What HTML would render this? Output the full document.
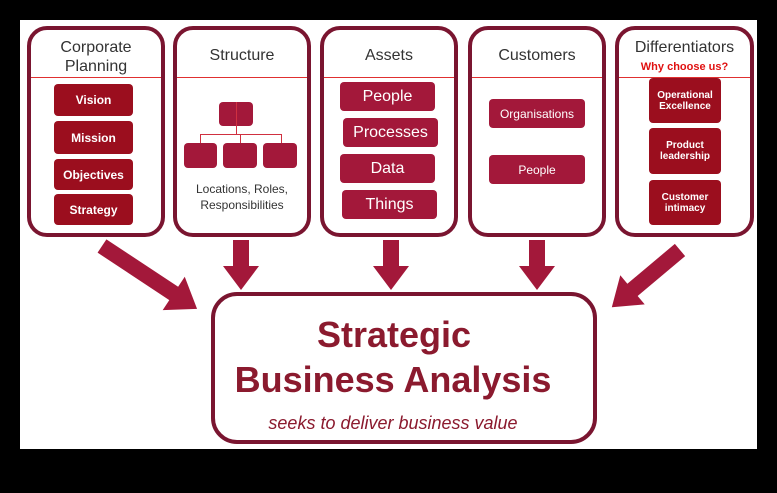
<!DOCTYPE html>
<html><head><style>
body{margin:0;background:#000;width:777px;height:493px;position:relative;overflow:hidden;font-family:"Liberation Sans",sans-serif}
.w{position:absolute;left:20px;top:20px;width:737px;height:429px;background:#fff}
.p{position:absolute;top:26px;height:203px;border:4px solid #7a1530;border-radius:20px;box-sizing:content-box}
.h{position:absolute;left:0;right:0;top:47px;border-top:1px solid #e03030}
.t{position:absolute;left:0;right:0;text-align:center;color:#333;font-size:16px;line-height:19px}
.b{position:absolute;background:#9b0e1e;color:#fff;font-weight:bold;font-size:12px;text-align:center;border-radius:4px;display:flex;align-items:center;justify-content:center;line-height:12px}
.c{background:#a3183a;font-weight:normal;font-size:16px}
.o{position:absolute;background:#a3183a;border-radius:4px}
</style></head><body>
<div class="w"></div>
<div class="p" style="left:27px;width:130px"><div class="h"></div><div class="t" style="top:8px">Corporate<br>Planning</div></div>
<div class="p" style="left:173px;width:130px"><div class="h"></div><div class="t" style="top:16px">Structure</div></div>
<div class="p" style="left:320px;width:130px"><div class="h"></div><div class="t" style="top:16px">Assets</div></div>
<div class="p" style="left:468px;width:130px"><div class="h"></div><div class="t" style="top:16px">Customers</div></div>
<div class="p" style="left:615px;width:131px"><div class="h"></div><div class="t" style="top:8px">Differentiators</div><div class="t" style="top:28px;color:#e01010;font-weight:bold;font-size:11px">Why choose us?</div></div>

<div class="b" style="left:54px;top:84px;width:79px;height:32px">Vision</div>
<div class="b" style="left:54px;top:121px;width:79px;height:33px">Mission</div>
<div class="b" style="left:54px;top:159px;width:79px;height:31px">Objectives</div>
<div class="b" style="left:54px;top:194px;width:79px;height:31px">Strategy</div>

<div class="o" style="left:219px;top:102px;width:34px;height:24px"></div>
<div style="position:absolute;left:236px;top:102px;height:32px;border-left:1px solid #d03040"></div>
<div style="position:absolute;left:200px;top:134px;width:80px;height:9px;border:1px solid #d03040;border-bottom:none"></div>
<div style="position:absolute;left:240px;top:134px;height:9px;border-left:1px solid #d03040"></div>
<div class="o" style="left:184px;top:143px;width:33px;height:25px"></div>
<div class="o" style="left:223px;top:143px;width:34px;height:25px"></div>
<div class="o" style="left:263px;top:143px;width:34px;height:25px"></div>
<div class="t" style="left:173px;width:138px;top:181px;font-size:12px;line-height:16px">Locations, Roles,<br>Responsibilities</div>

<div class="b c" style="left:340px;top:82px;width:95px;height:29px">People</div>
<div class="b c" style="left:343px;top:118px;width:95px;height:29px">Processes</div>
<div class="b c" style="left:340px;top:154px;width:95px;height:29px">Data</div>
<div class="b c" style="left:342px;top:190px;width:95px;height:29px">Things</div>

<div class="b c" style="left:489px;top:99px;width:96px;height:29px;font-size:12px">Organisations</div>
<div class="b c" style="left:489px;top:155px;width:96px;height:29px;font-size:12px">People</div>

<div class="b" style="left:649px;top:78px;width:72px;height:45px;font-size:10px;line-height:11px">Operational<br>Excellence</div>
<div class="b" style="left:649px;top:128px;width:72px;height:46px;font-size:10px;line-height:11px">Product<br>leadership</div>
<div class="b" style="left:649px;top:180px;width:72px;height:45px;font-size:10px;line-height:11px">Customer<br>intimacy</div>

<svg style="position:absolute;left:0;top:0" width="777" height="493">
<g fill="#a3183a">
<polygon points="233,240 249,240 249,266 259,266 241,290 223,266 233,266"/>
<polygon points="383,240 399,240 399,266 409,266 391,290 373,266 383,266"/>
<polygon points="529,240 545,240 545,266 555,266 537,290 519,266 529,266"/>
<polygon transform="translate(102,246) rotate(33.5)" points="0,-8 86,-8 86,-20 114,0 86,20 86,8 0,8"/>
<polygon transform="translate(680,250) rotate(140)" points="0,-8 62,-8 62,-19 89,0 62,19 62,8 0,8"/>
</g>
<rect x="213" y="294" width="382" height="148" rx="24" fill="#fff" stroke="#7a1530" stroke-width="4"/>
<g fill="#8b1a2e" text-anchor="middle" font-family="Liberation Sans">
<text x="394" y="347" font-size="36" font-weight="bold">Strategic</text>
<text x="393" y="392" font-size="36" font-weight="bold">Business Analysis</text>
<text x="393" y="429" font-size="18" font-style="italic">seeks to deliver business value</text>
</g>
</svg>
</body></html>
